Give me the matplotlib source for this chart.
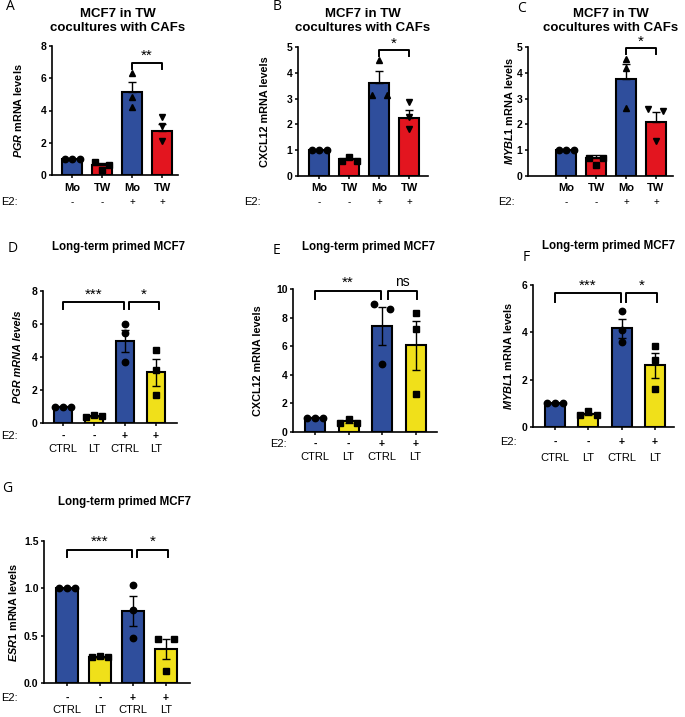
import matplotlib
matplotlib.use('Agg')
import matplotlib.pyplot as plt
import matplotlib.transforms as mtransforms
import numpy as np

plt.rcParams['font.family'] = ['Liberation Sans', 'DejaVu Sans']
plt.rcParams['mathtext.fontset'] = 'custom'
plt.rcParams['mathtext.it'] = 'Liberation Sans:italic:bold'
plt.rcParams['mathtext.rm'] = 'Liberation Sans:bold'

W, H = 685, 717
BLUE = '#2F4E9C'
RED = '#E3151F'
YELLOW = '#F0E01A'

# ---- data ----
tw_cats = ['Mo', 'TW', 'Mo', 'TW']
lt_cats = ['CTRL', 'LT', 'CTRL', 'LT']
e2_signs = ['-', '-', '+', '+']

a_mean = [1.0, 0.6, 5.15, 2.75]
a_sem = [0.02, 0.15, 0.6, 0.42]
a_pts = [[1, 1, 1], [0.82, 0.3, 0.65], [6.3, 4.84, 4.22], [3.6, 3.04, 2.08]]

b_mean = [1.0, 0.65, 3.62, 2.26]
b_sem = [0.02, 0.06, 0.44, 0.31]
b_pts = [[1, 1, 1], [0.6, 0.74, 0.6], [4.48, 3.15, 3.15], [2.87, 2.29, 1.83]]

c_mean = [1.0, 0.71, 3.75, 2.08]
c_sem = [0.02, 0.09, 0.58, 0.41]
c_pts = [[1, 1, 1], [0.68, 0.42, 0.68], [4.55, 4.2, 2.63], [2.6, 2.53, 1.34]]

d_mean = [1.0, 0.4, 4.98, 3.07]
d_sem = [0.02, 0.05, 0.67, 0.8]
d_pts = [[1, 1, 1], [0.35, 0.5, 0.4], [5.97, 5.43, 3.72], [4.42, 3.22, 1.67]]

e_mean = [1.0, 0.75, 7.4, 6.05]
e_sem = [0.02, 0.1, 1.33, 1.72]
e_pts = [[1, 1, 1], [0.65, 0.91, 0.65], [8.95, 8.6, 4.75], [8.32, 7.2, 2.68]]

f_mean = [1.0, 0.55, 4.18, 2.6]
f_sem = [0.02, 0.06, 0.4, 0.53]
f_pts = [[1, 1, 1], [0.5, 0.66, 0.5], [4.92, 4.08, 3.58], [3.41, 2.85, 1.59]]

g_mean = [1.0, 0.27, 0.76, 0.36]
g_sem = [0.005, 0.01, 0.16, 0.11]
g_pts = [[1, 1, 1], [0.27, 0.28, 0.27], [1.03, 0.77, 0.48], [0.47, 0.47, 0.13]]

fig = plt.figure(figsize=(W / 100, H / 100), dpi=100)


def fx(px):
    return px / W


def fy(py):
    return 1 - py / H


def panel(rect, xlim, ymax, yticks, means, sems, pts, colors, markers, dxs,
          width, both_err, ylabel, ylabel_x, e2_x, cats, cat_bold,
          row1_y, row2_y):
    l, r, t, b = rect
    ax = fig.add_axes([fx(l), fy(b), fx(r - l), (b - t) / H])
    x = np.arange(4)
    ax.bar(x, means, width, color=colors, edgecolor='black', linewidth=1.5, zorder=2)
    lower = sems if both_err else [0] * 4
    ax.errorbar(x, means, yerr=[lower, sems], fmt='none', ecolor='black',
                elinewidth=1.0, capsize=3, capthick=1.0, zorder=3)
    for i in range(4):
        for j in range(3):
            ax.plot(x[i] + dxs[i][j], pts[i][j], marker=markers[i], color='black',
                    markersize=4.6, linestyle='none', zorder=4, clip_on=False)
    ax.set_xlim(*xlim)
    ax.set_ylim(0, ymax)
    ax.set_yticks(yticks)
    if isinstance(yticks[1], float):
        ax.set_yticklabels(['%.1f' % v for v in yticks])
    ax.set_xticks(x)
    ax.set_xticklabels([])
    for s in ['top', 'right']:
        ax.spines[s].set_visible(False)
    for s in ['left', 'bottom']:
        ax.spines[s].set_linewidth(1.2)
    ax.tick_params(direction='out', length=2.5, width=1.1, labelsize=7.5, pad=1.5)
    for lab in ax.get_yticklabels():
        lab.set_fontweight('bold')
    fig.text(fx(ylabel_x), fy((t + b) / 2), ylabel[0], rotation=90, ha='center',
             va='center', fontsize=7.8, fontweight='bold', fontstyle=ylabel[1])
    tr = mtransforms.blended_transform_factory(ax.transData, fig.transFigure)
    if cat_bold:
        for i in range(4):
            ax.text(x[i], fy(row1_y), cats[i], transform=tr, ha='center', va='center',
                    fontsize=8, fontweight='bold')
            ax.text(x[i], fy(row2_y), e2_signs[i], transform=tr, ha='center',
                    va='center', fontsize=7)
        fig.text(fx(e2_x), fy(row2_y), 'E2:', ha='left', va='center', fontsize=8)
    else:
        for i in range(4):
            ax.text(x[i], fy(row1_y), e2_signs[i], transform=tr, ha='center',
                    va='center', fontsize=7.5, fontweight='bold')
            ax.text(x[i], fy(row2_y), cats[i], transform=tr, ha='center',
                    va='center', fontsize=8)
        fig.text(fx(e2_x), fy(row1_y), 'E2:', ha='left', va='center', fontsize=8)
    return ax


def bracket(ax, x0, x1, y, ydrop, label, ytext, fs=11):
    ax.plot([x0, x0, x1, x1], [y - ydrop, y, y, y - ydrop], color='black',
            lw=1.4, clip_on=False, zorder=5)
    ax.text((x0 + x1) / 2, ytext, label, ha='center', va='center', fontsize=fs,
            clip_on=False)


spread = [[-0.25, 0, 0.25], [-0.25, 0, 0.22]]
tw_colors = [BLUE, RED, BLUE, RED]
lt_colors = [BLUE, YELLOW, BLUE, YELLOW]
tw_markers = ['o', 's', '^', 'v']
lt_markers = ['o', 's', 'o', 's']
center = [0, 0, 0]

# A
ax = panel((52, 178, 46, 175), (-0.67, 3.53), 8, [0, 2, 4, 6, 8], a_mean, a_sem, a_pts,
           tw_colors, tw_markers, [spread[0], spread[1], center, center], 0.66, False,
           (r'$\mathit{PGR}$ mRNA levels', 'normal'), 18, 1, tw_cats, True, 188, 202)
bracket(ax, 2, 3, 6.94, 0.37, '**', 7.4)

# B
ax = panel((298, 428, 47, 176), (-0.7, 3.63), 5, [0, 1, 2, 3, 4, 5], b_mean, b_sem, b_pts,
           tw_colors, tw_markers, [spread[0], spread[0], [0, -0.25, 0.25], center], 0.66,
           False, ('CXCL12 mRNA levels', 'normal'), 265, 244, tw_cats, True, 188, 202)
bracket(ax, 2, 3, 4.9, 0.26, '*', 5.12)

# C
ax = panel((528, 673, 47, 176), (-1.27, 3.57), 5, [0, 1, 2, 3, 4, 5], c_mean, c_sem, c_pts,
           tw_colors, tw_markers, [spread[0], spread[0], center, [-0.25, 0.25, 0]], 0.64,
           False, (r'$\mathit{MYBL1}$ mRNA levels', 'normal'), 509, 498, tw_cats, True,
           188, 202)
bracket(ax, 2, 3, 4.97, 0.23, '*', 5.2)

# D
ax = panel((43, 177, 291, 423), (-0.65, 3.68), 8, [0, 2, 4, 6, 8], d_mean, d_sem, d_pts,
           lt_colors, lt_markers, [spread[0], spread[0], center, center], 0.6, True,
           ('PGR mRNA levels', 'italic'), 18, 1, lt_cats, False, 436, 449)
bracket(ax, 0, 1.97, 7.34, 0.44, '***', 7.8)
bracket(ax, 2.13, 3.1, 7.34, 0.44, '*', 7.8)

# E
ax = panel((293, 437, 289, 432), (-0.66, 3.64), 10, [0, 2, 4, 6, 8, 10], e_mean, e_sem,
           e_pts, lt_colors, lt_markers, [spread[0], spread[0], [-0.25, 0.25, 0], center],
           0.6, True, ('CXCL12 mRNA levels', 'normal'), 258, 270, lt_cats, False, 444, 457)
bracket(ax, 0, 1.97, 9.84, 0.54, '**', 10.4)
bracket(ax, 2.17, 3.05, 9.84, 0.54, 'ns', 10.5, fs=10)

# F
ax = panel((533, 674, 285, 427), (-0.66, 3.57), 6, [0, 2, 4, 6], f_mean, f_sem, f_pts,
           lt_colors, lt_markers, [spread[0], spread[0], center, center], 0.6, True,
           (r'$\mathit{MYBL1}$ mRNA levels', 'normal'), 508, 500, lt_cats, False, 442, 458)
bracket(ax, 0, 1.97, 5.65, 0.35, '***', 5.95)
bracket(ax, 2.13, 3.05, 5.65, 0.35, '*', 5.95)

# G
ax = panel((44, 190, 541, 683), (-0.7, 3.73), 1.5, [0.0, 0.5, 1.0, 1.5], g_mean, g_sem,
           g_pts, lt_colors, lt_markers, [spread[0], [-0.25, 0, 0.25], center,
                                          [-0.25, 0.25, 0]],
           0.66, True, (r'$\mathit{ESR1}$ mRNA levels', 'normal'), 13, 1, lt_cats, False,
           698, 710)
bracket(ax, 0, 1.97, 1.41, 0.08, '***', 1.49)
bracket(ax, 2.13, 3.05, 1.41, 0.08, '*', 1.49)

# titles
for cx in (118, 363, 611):
    fig.text(fx(cx), fy(14), 'MCF7 in TW', ha='center', va='center', fontsize=9.5,
             fontweight='bold')
    fig.text(fx(cx), fy(28), 'cocultures with CAFs', ha='center', va='center',
             fontsize=9.5, fontweight='bold')
for cx, cy in ((119, 247), (369, 247), (609, 246), (124, 502)):
    fig.text(fx(cx), fy(cy), 'Long-term primed MCF7', ha='center', va='center',
             fontsize=8.3, fontweight='bold')

# panel letters
for lab, px, py in (('A', 10, 7), ('B', 277, 7), ('C', 521, 8), ('D', 13, 248),
                    ('E', 277, 250), ('F', 526, 258), ('G', 7, 488)):
    fig.text(fx(px), fy(py), lab, ha='center', va='center', fontsize=10,
             family='Open Sans')

fig.savefig('out.png', dpi=100)
